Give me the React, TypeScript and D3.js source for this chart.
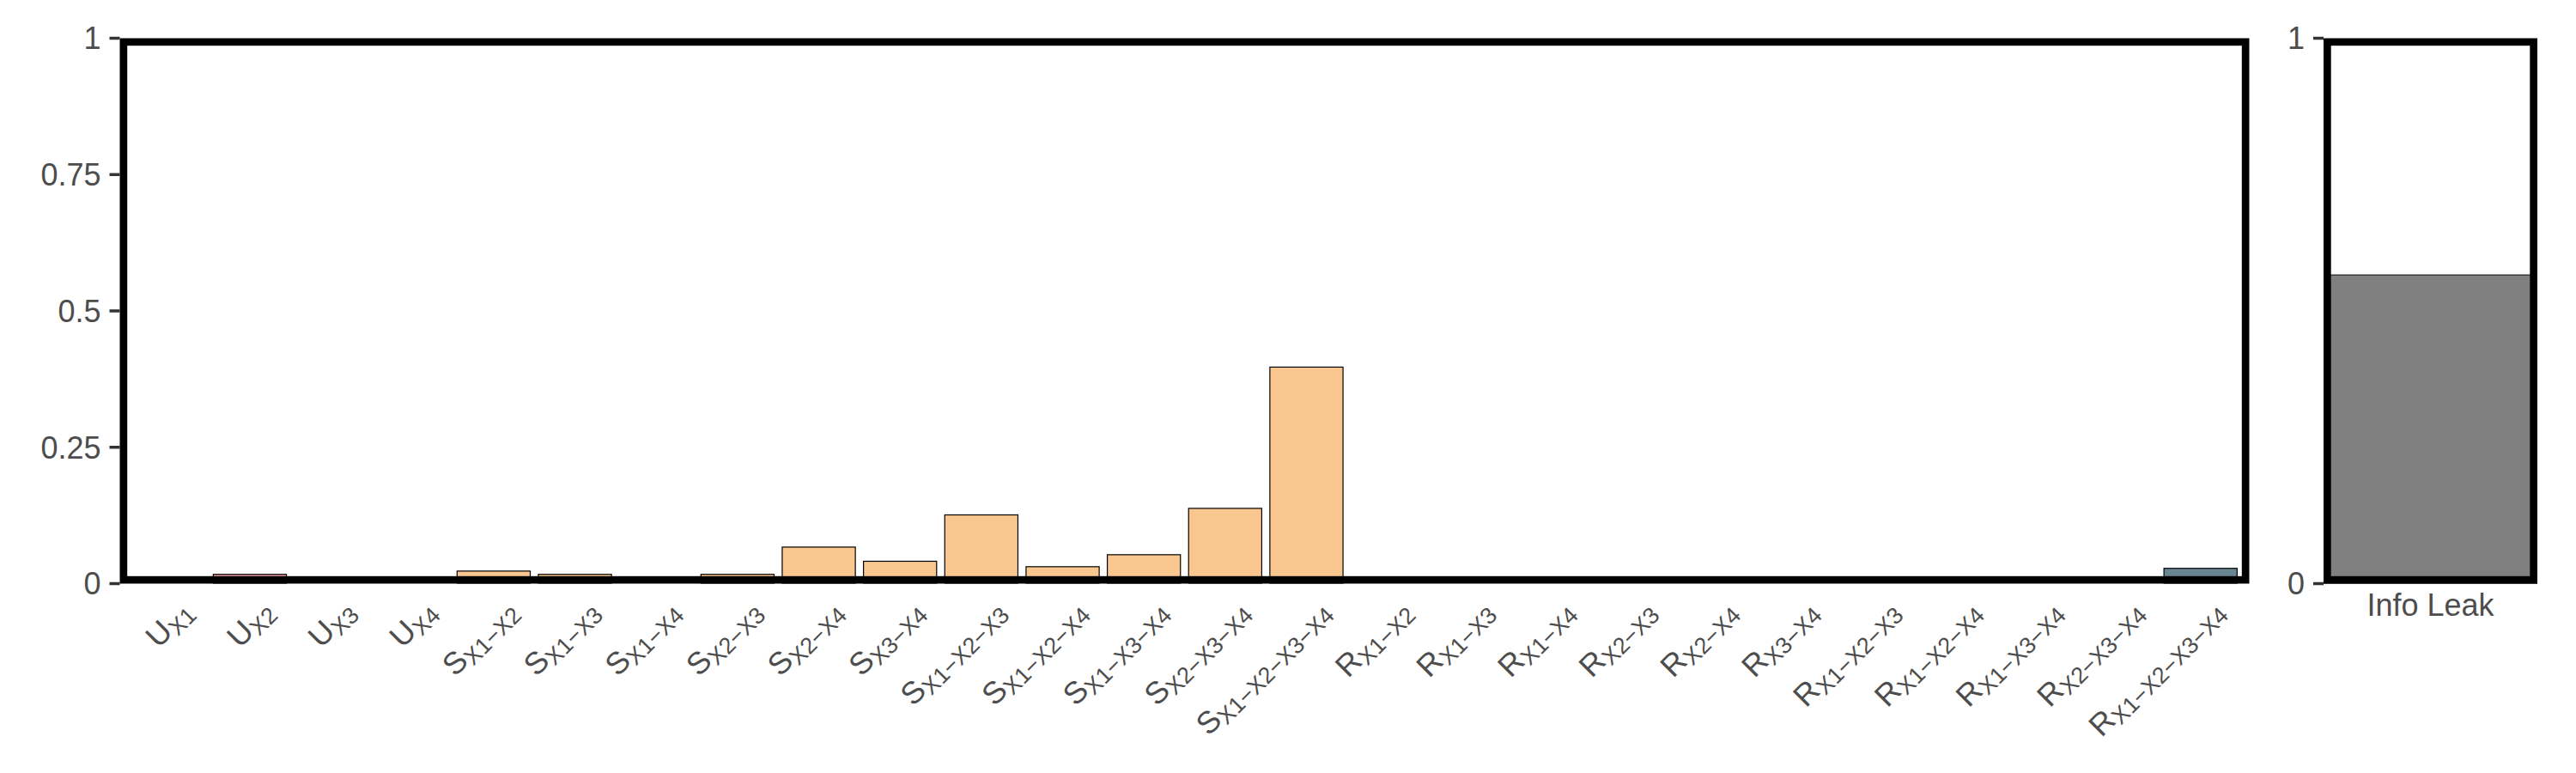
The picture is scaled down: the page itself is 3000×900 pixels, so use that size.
import React from "react";
import * as d3 from "d3";

// ---- data ----
const labelMain: string[] = [
  "U", "U", "U", "U",
  "S", "S", "S", "S", "S", "S", "S", "S", "S", "S", "S",
  "R", "R", "R", "R", "R", "R", "R", "R", "R", "R", "R",
];
const labelSub: string[] = [
  "X1", "X2", "X3", "X4",
  "X1−X2", "X1−X3", "X1−X4", "X2−X3", "X2−X4", "X3−X4",
  "X1−X2−X3", "X1−X2−X4", "X1−X3−X4", "X2−X3−X4", "X1−X2−X3−X4",
  "X1−X2", "X1−X3", "X1−X4", "X2−X3", "X2−X4", "X3−X4",
  "X1−X2−X3", "X1−X2−X4", "X1−X3−X4", "X2−X3−X4", "X1−X2−X3−X4",
];
const values: number[] = [
  0, 0.017, 0, 0,
  0.023, 0.017, 0, 0.017, 0.067, 0.041,
  0.126, 0.031, 0.053, 0.138, 0.397,
  0, 0, 0, 0, 0, 0,
  0, 0, 0, 0, 0.028,
];
const yTicksMain: number[] = [0, 0.25, 0.5, 0.75, 1];
const yTickLabelsMain: string[] = ["0", "0.25", "0.5", "0.75", "1"];
const leakCategory: string[] = ["Info Leak"];
const leakValue: number[] = [0.566];
const yTicksLeak: number[] = [0, 1];
const yTickLabelsLeak: string[] = ["0", "1"];

const groupColor: Record<string, string> = {
  U: "#EA9BA0",
  S: "#F9C68F",
  R: "#688592",
};

const categories = labelMain.map((m, i) => m + "_" + labelSub[i] + "_" + i);

const FONT = "'Liberation Sans', Arial, sans-serif";
const TEXT = "#4D4D4D";
const TICK = "#333333";
const BORDER = 8.7;

export default function App() {
  const W = 3000, H = 900;
  const top = 44.5, bottom = 679.5;
  const mainL = 139.5, mainR = 2619.5;
  const leakL = 2706, leakR = 2955;

  const y = d3.scaleLinear().domain([0, 1]).range([bottom, top]);
  const x = d3.scaleBand<string>().domain(categories).range([mainL, mainR]).paddingInner(0.1).paddingOuter(0.15);
  const xl = d3.scaleBand<string>().domain(leakCategory).range([leakL, leakR]).padding(0);

  return (
    <svg width={W} height={H} style={{ position: "absolute", left: 0, top: 0, background: "#fff" }} fontFamily={FONT}>
      <defs>
        <clipPath id="clipMain"><rect x={mainL} y={top} width={mainR - mainL} height={bottom - top} /></clipPath>
        <clipPath id="clipLeak"><rect x={leakL} y={top} width={leakR - leakL} height={bottom - top} /></clipPath>
      </defs>

      {/* main panel */}
      <g clipPath="url(#clipMain)">
        {values.map((v, i) => (
          <rect key={i} x={x(categories[i])!} width={x.bandwidth()} y={y(v)} height={y(0) - y(v)}
            fill={groupColor[labelMain[i]]} stroke="#000" strokeWidth={1.2} />
        ))}
        <rect x={mainL} y={top} width={mainR - mainL} height={bottom - top} fill="none" stroke="#000" strokeWidth={BORDER * 2} />
      </g>
      {yTicksMain.map((t, i) => (
        <g key={i}>
          <line x1={mainL - 12} x2={mainL} y1={y(t)} y2={y(t)} stroke={TICK} strokeWidth={3.5} />
          <text x={mainL - 22} y={y(t)} dy="0.36em" textAnchor="end" fontSize={36} fill={TEXT}>{yTickLabelsMain[i]}</text>
        </g>
      ))}
      {categories.map((c, i) => {
        const cx = x(c)! + x.bandwidth() / 2;
        return (
          <text key={c} transform={`translate(${cx + 30},${714}) rotate(-45)`} textAnchor="end" fill={TEXT}>
            <tspan fontSize={36}>{labelMain[i]}</tspan>
            <tspan fontSize={27} dy={6}>{labelSub[i]}</tspan>
          </text>
        );
      })}

      {/* info leak panel */}
      <g clipPath="url(#clipLeak)">
        {leakValue.map((v, i) => (
          <rect key={i} x={xl(leakCategory[i])!} width={xl.bandwidth()} y={y(v)} height={y(0) - y(v)}
            fill="#808080" stroke="#000" strokeWidth={1} />
        ))}
        <rect x={leakL} y={top} width={leakR - leakL} height={bottom - top} fill="none" stroke="#000" strokeWidth={BORDER * 2} />
      </g>
      {yTicksLeak.map((t, i) => (
        <g key={i}>
          <line x1={leakL - 12} x2={leakL} y1={y(t)} y2={y(t)} stroke={TICK} strokeWidth={3.5} />
          <text x={leakL - 22} y={y(t)} dy="0.36em" textAnchor="end" fontSize={36} fill={TEXT}>{yTickLabelsLeak[i]}</text>
        </g>
      ))}
      {leakCategory.map((c) => (
        <text key={c} x={xl(c)! + xl.bandwidth() / 2} y={717} textAnchor="middle" fontSize={36} fill={TEXT}>{c}</text>
      ))}
    </svg>
  );
}
